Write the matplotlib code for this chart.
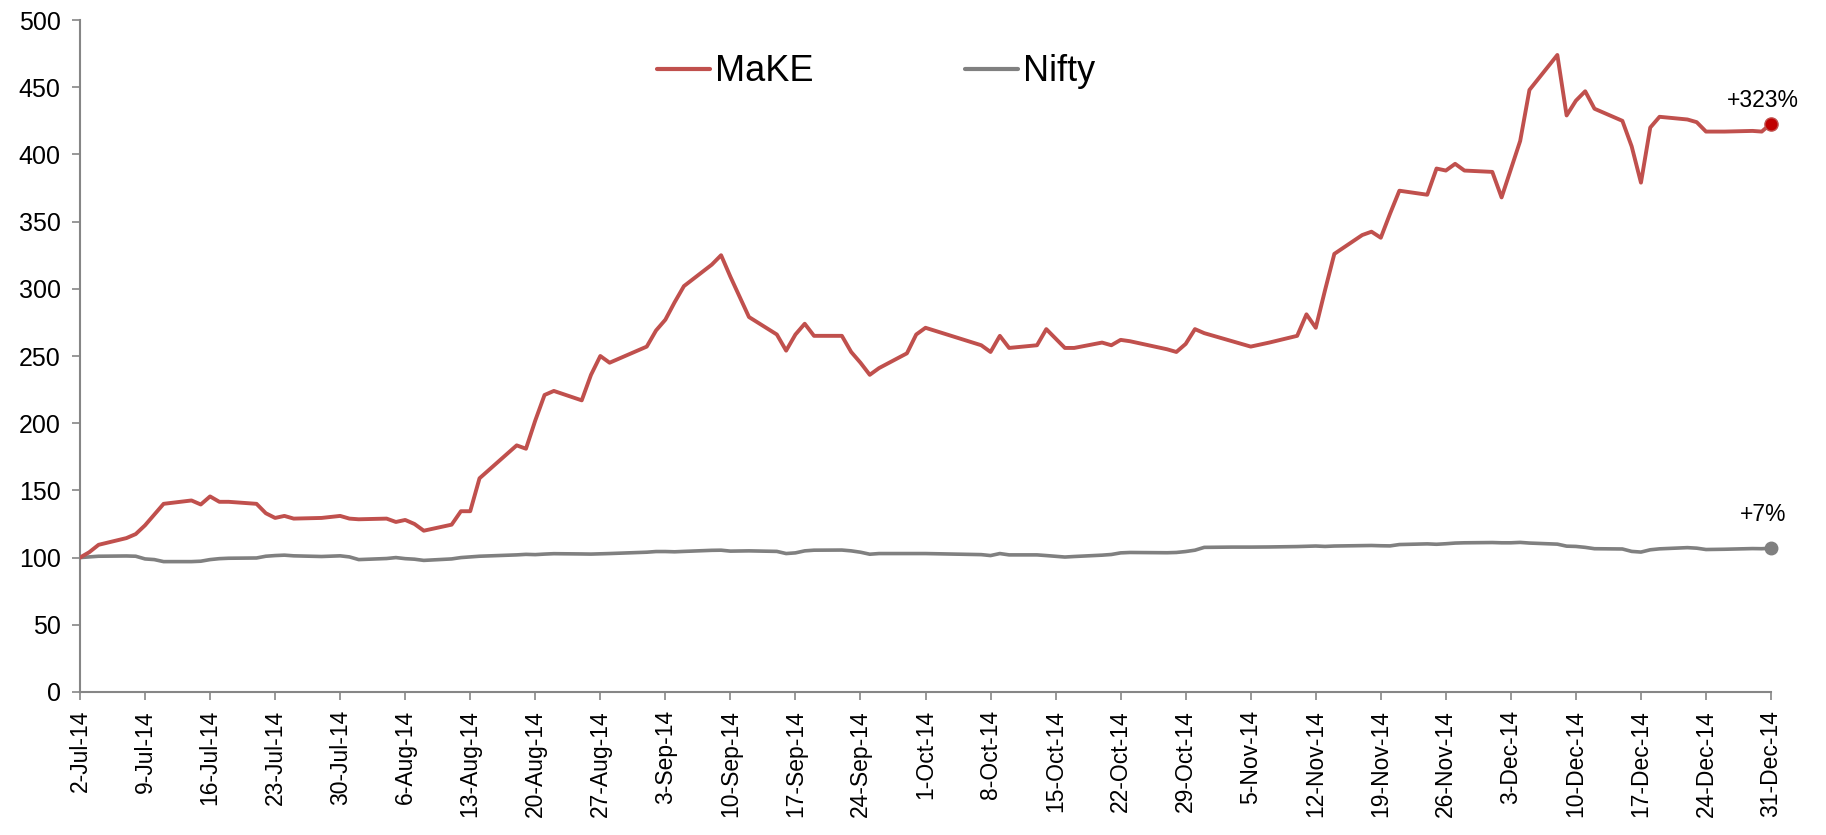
import matplotlib
matplotlib.use("Agg")
import matplotlib.pyplot as plt
from datetime import datetime

plt.rcParams['font.family'] = ['Liberation Sans', 'DejaVu Sans']

# ---- data ----
make_dates = [
    "2014-07-02", "2014-07-03", "2014-07-04", "2014-07-07", "2014-07-08", "2014-07-09", "2014-07-10",
    "2014-07-11", "2014-07-14", "2014-07-15", "2014-07-16", "2014-07-17", "2014-07-18", "2014-07-21",
    "2014-07-22", "2014-07-23", "2014-07-24", "2014-07-25", "2014-07-28", "2014-07-30", "2014-07-31",
    "2014-08-01", "2014-08-04", "2014-08-05", "2014-08-06", "2014-08-07", "2014-08-08", "2014-08-11",
    "2014-08-12", "2014-08-13", "2014-08-14", "2014-08-18", "2014-08-19", "2014-08-20", "2014-08-21",
    "2014-08-22", "2014-08-25", "2014-08-26", "2014-08-27", "2014-08-28", "2014-09-01", "2014-09-02",
    "2014-09-03", "2014-09-04", "2014-09-05", "2014-09-08", "2014-09-09", "2014-09-10", "2014-09-11",
    "2014-09-12", "2014-09-15", "2014-09-16", "2014-09-17", "2014-09-18", "2014-09-19", "2014-09-22",
    "2014-09-23", "2014-09-24", "2014-09-25", "2014-09-26", "2014-09-29", "2014-09-30", "2014-10-01",
    "2014-10-07", "2014-10-08", "2014-10-09", "2014-10-10", "2014-10-13", "2014-10-14", "2014-10-16",
    "2014-10-17", "2014-10-20", "2014-10-21", "2014-10-22", "2014-10-23", "2014-10-27", "2014-10-28",
    "2014-10-29", "2014-10-30", "2014-10-31", "2014-11-03", "2014-11-05", "2014-11-07", "2014-11-10",
    "2014-11-11", "2014-11-12", "2014-11-13", "2014-11-14", "2014-11-17", "2014-11-18", "2014-11-19",
    "2014-11-20", "2014-11-21", "2014-11-24", "2014-11-25", "2014-11-26", "2014-11-27", "2014-11-28",
    "2014-12-01", "2014-12-02", "2014-12-03", "2014-12-04", "2014-12-05", "2014-12-08", "2014-12-09",
    "2014-12-10", "2014-12-11", "2014-12-12", "2014-12-15", "2014-12-16", "2014-12-17", "2014-12-18",
    "2014-12-19", "2014-12-22", "2014-12-23", "2014-12-24", "2014-12-26", "2014-12-29", "2014-12-30",
    "2014-12-31",
]
make_values = [
    100, 104, 109.5, 114.5, 117.5, 124, 132,
    140, 142.5, 139.5, 145.5, 141.5, 141.5, 140,
    133, 129.5, 131, 129, 129.5, 131, 129,
    128.5, 129, 126.5, 128, 125, 120, 124.5,
    134.5, 134.5, 159, 183.5, 181, 202, 221,
    224, 217, 236, 250, 245, 257, 269,
    277, 290, 302, 318, 325, 309, 294,
    279, 266, 254, 266, 274, 265, 265,
    253, 245, 236, 241, 252, 266, 271,
    258, 253, 265, 256, 258, 270, 256,
    256, 260, 258, 262, 261, 255, 253,
    259, 270, 267, 261, 257, 260, 265,
    281, 271, 299, 326, 340, 342.5, 338,
    356, 373, 370, 389.5, 388, 393, 388,
    387, 368, 389, 410, 448, 474, 429,
    440, 447, 434, 425, 406, 379, 420,
    428, 426, 424, 417, 417, 417.5, 417,
    423,
]
nifty_values = [
    100, 100.5, 101, 101.2, 101, 99, 98.5,
    97, 97, 97.3, 98.5, 99.2, 99.5, 99.7,
    101, 101.5, 101.8, 101.3, 100.8, 101.3, 100.5,
    98.5, 99.3, 100, 99.2, 98.8, 97.9, 99,
    100, 100.5, 101, 102, 102.4, 102.2, 102.6,
    102.9, 102.7, 102.6, 102.8, 103, 104, 104.5,
    104.5, 104.3, 104.6, 105.4, 105.5, 104.8, 104.9,
    105, 104.6, 103, 103.5, 105, 105.5, 105.6,
    105, 104, 102.5, 103, 103, 103, 103,
    102.2, 101.5, 103, 102, 102, 101.5, 100.4,
    100.8, 101.8, 102.3, 103.5, 103.8, 103.6, 103.8,
    104.5, 105.5, 107.6, 107.8, 107.8, 107.9, 108.2,
    108.4, 108.6, 108.3, 108.6, 108.9, 109, 108.8,
    108.7, 109.7, 110.2, 109.9, 110.3, 110.8, 111,
    111.2, 111, 111, 111.3, 110.8, 110, 108.5,
    108.3, 107.6, 106.6, 106.4, 104.6, 104.1, 105.8,
    106.5, 107.4, 107, 106, 106.2, 106.7, 106.6,
    107,
]
series_names = ["MaKE", "Nifty"]
end_labels = ["+323%", "+7%"]
tick_labels = [
    "2-Jul-14", "9-Jul-14", "16-Jul-14", "23-Jul-14", "30-Jul-14", "6-Aug-14", "13-Aug-14",
    "20-Aug-14", "27-Aug-14", "3-Sep-14", "10-Sep-14", "17-Sep-14", "24-Sep-14", "1-Oct-14",
    "8-Oct-14", "15-Oct-14", "22-Oct-14", "29-Oct-14", "5-Nov-14", "12-Nov-14", "19-Nov-14",
    "26-Nov-14", "3-Dec-14", "10-Dec-14", "17-Dec-14", "24-Dec-14", "31-Dec-14",
]
y_ticks = [0, 50, 100, 150, 200, 250, 300, 350, 400, 450, 500]

# ---- figure ----
dates = [datetime.strptime(d, "%Y-%m-%d") for d in make_dates]
tick_dates = [datetime.strptime(t, "%d-%b-%y") for t in tick_labels]

fig = plt.figure(figsize=(18.26, 8.35), dpi=100)
ax = fig.add_axes([0.0438, 0.1713, 0.9261, 0.8047])

red = "#C0504D"
grey = "#808080"
ax.plot(dates, make_values, color=red, lw=2.8, solid_joinstyle="round",
        solid_capstyle="round", label=series_names[0], zorder=3)
ax.plot(dates, nifty_values, color=grey, lw=2.6, solid_joinstyle="round",
        solid_capstyle="round", label=series_names[1], zorder=2)

ax.plot(dates[-1], make_values[-1], "o", ms=9.5, color="#C00000",
        mec="#C0504D", mew=1, zorder=4, clip_on=False)
ax.plot(dates[-1], nifty_values[-1], "o", ms=9, color=grey,
        mec=grey, zorder=4, clip_on=False)

ax.annotate(end_labels[0], (dates[-1], make_values[-1]), xytext=(-6, 8),
            textcoords="offset points", ha="center", va="bottom", fontsize=16.5)
ax.annotate(end_labels[1], (dates[-1], nifty_values[-1]), xytext=(-6, 16),
            textcoords="offset points", ha="center", va="bottom", fontsize=16.5)

ax.set_xlim(tick_dates[0], tick_dates[-1])
ax.set_ylim(0, 500)
ax.set_yticks(y_ticks)
ax.set_xticks(tick_dates)
ax.set_xticklabels(tick_labels, rotation=90)

for s in ["top", "right"]:
    ax.spines[s].set_visible(False)
for s in ["left", "bottom"]:
    ax.spines[s].set_color("#868686")
    ax.spines[s].set_linewidth(1.5)

ax.tick_params(axis="y", direction="out", length=6, width=1.2, color="#868686",
               labelsize=18, pad=8)
ax.tick_params(axis="x", direction="out", length=6, width=1.2, color="#868686",
               labelsize=16.5, pad=7)

leg = ax.legend(loc="center", bbox_to_anchor=(0.471, 0.923), ncol=2, frameon=False,
                fontsize=26, handlelength=1.45, handletextpad=0.15,
                columnspacing=4.2)
for line in leg.get_lines():
    line.set_linewidth(3)

fig.savefig("out.png", dpi=100)
